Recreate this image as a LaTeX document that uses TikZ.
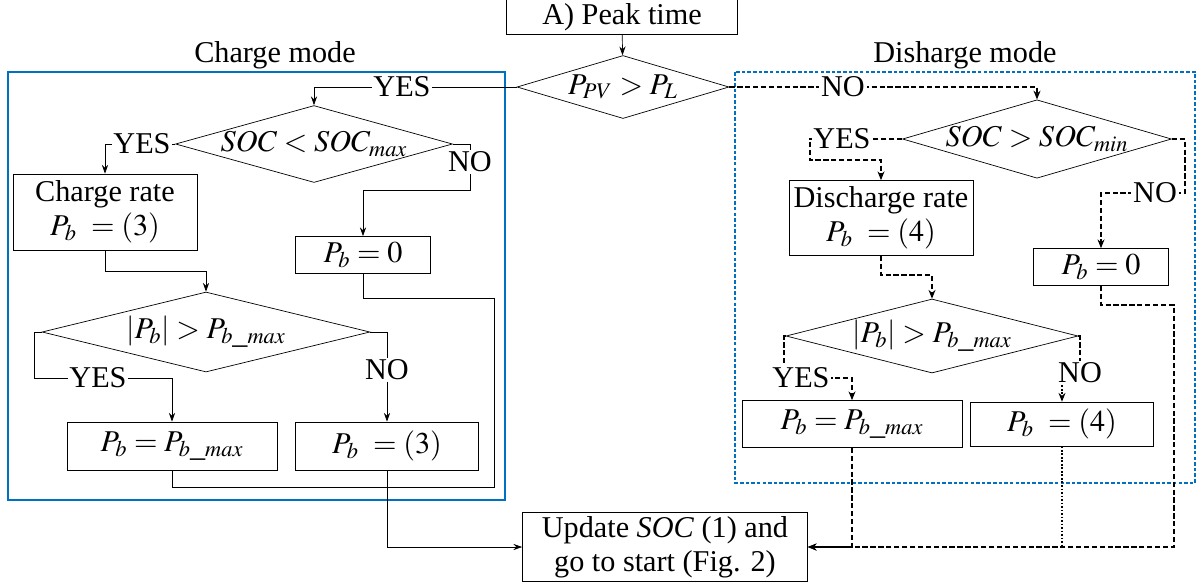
\documentclass[tikz,border=0pt]{standalone}
\usepackage{mathptmx}
\usepackage[no-math]{fontspec}
\setmainfont{Liberation Serif}
\usetikzlibrary{shapes.geometric,arrows.meta}

\definecolor{modeblue}{RGB}{0,112,192}

\tikzset{
  block/.style={draw, thin, align=center, inner sep=2pt},
  decision/.style={draw, thin, diamond, inner sep=0pt},
  flow/.style={thin, -{Stealth[length=5pt,width=3.5pt]}},
  link/.style={thin},
  dflow/.style={line width=0.7pt, dash pattern=on 3pt off 1.5pt, -{Stealth[length=5pt,width=4pt]}},
  dlink/.style={line width=0.7pt, dash pattern=on 3pt off 1.5pt},
  lbl/.style={fill=white, inner sep=1pt},
  chargeframe/.style={modeblue, line width=1.4pt},
  dischargeframe/.style={modeblue, line width=1.4pt, dash pattern=on 2pt off 1.2pt},
}

\begin{document}
\begin{tikzpicture}[x=0.02cm, y=-0.02cm, font=\fontsize{17.2}{19.5}\selectfont]
\useasboundingbox (0,0) rectangle (1198,583);

% mode frames
\draw[chargeframe] (8,72) rectangle (505,500);
\draw[dischargeframe] (735,72) rectangle (1195,483);
\node (chargetitle) at (275,55) {Charge mode};
\node (dischargetitle) at (965,55) {Disharge mode};

% top
\node[block, minimum width=4.62cm, minimum height=0.64cm] (peak) at (622,17) {A) Peak time};
\node[decision, aspect=3.37, minimum width=4.24cm, minimum height=1.26cm] (pvpl) at (623,87) {$P_{PV} > P_L$};

% charge mode
\node[decision, aspect=3.6, minimum width=5.46cm, minimum height=1.52cm] (soclow) at (314,144) {$SOC < SOC_{max}$};
\node[block, minimum width=3.68cm, minimum height=1.52cm] (chrate) at (105,212) {Charge rate\\$P_b\ = (3)$};
\node[block, minimum width=2.7cm, minimum height=0.74cm] (pbzeroL) at (363,255) {$P_b = 0$};
\node[decision, aspect=4.1, minimum width=6.56cm, minimum height=1.6cm] (limL) at (206,332) {$|P_b| > P_{b\_max}$};
\node[block, minimum width=4.2cm, minimum height=0.96cm] (pbmaxL) at (172,446) {$P_b = P_{b\_max}$};
\node[block, minimum width=3.66cm, minimum height=0.96cm] (pbthree) at (387,446) {$P_b\ = (3)$};

% discharge mode
\node[decision, aspect=3.43, minimum width=5.14cm, minimum height=1.5cm] (sochigh) at (1037,139) {$SOC > SOC_{min}$};
\node[block, minimum width=3.68cm, minimum height=1.5cm] (dsrate) at (881,218) {Discharge rate\\$P_b\ = (4)$};
\node[block, minimum width=2.7cm, minimum height=0.74cm] (pbzeroR) at (1101,267) {$P_b = 0$};
\node[decision, aspect=3.95, minimum width=5.84cm, minimum height=1.48cm] (limR) at (932,336) {$|P_b| > P_{b\_max}$};
\node[block, minimum width=4.4cm, minimum height=0.94cm] (pbmaxR) at (852,424) {$P_b = P_{b\_max}$};
\node[block, minimum width=3.66cm, minimum height=0.88cm] (pbfour) at (1062,424) {$P_b\ = (4)$};

% end
\node[block, minimum width=5.7cm, minimum height=1.38cm] (update) at (665,547) {Update \textit{SOC} (1) and\\go to start (Fig. 2)};

% charge connectors
\draw[flow] (peak) -- (pvpl);
\draw[flow] (pvpl.west) -| (soclow.north);
\draw[flow] (soclow.west) -| (chrate.north);
\draw[flow] (soclow.east) -- (470,144) |- (363,190) -- (pbzeroL.north);
\draw[flow] (chrate.south) -- (105,271) -| (limL.north);
\draw[link] (pbzeroL.south) |- (494,298) |- (387,487);
\draw[flow] (limL.west) -- (34,332) |- (172,378) -- (pbmaxL.north);
\draw[flow] (limL.east) -| (pbthree.north);
\draw[link] (pbmaxL.south) |- (387,487);
\draw[flow] (pbthree.south) |- (update.west);

% discharge connectors
\draw[dflow] (pvpl.east) -| (sochigh.north);
\draw[dflow] (sochigh.west) -- (810,139) |- (881,160) -- (dsrate.north);
\draw[dflow] (sochigh.east) -- (1185,139) |- (1101,193) -- (pbzeroR.north);
\draw[dflow] (dsrate.south) -- (881,275) -| (limR.north);
\draw[dflow] (limR.west) -- (784,336) |- (852,378) -- (pbmaxR.north);
\draw[dflow] (pbmaxR.south) |- (update.east);
\draw[line width=0.6pt, dash pattern=on 1pt off 1pt] (pbfour.south) -- (pbfour.south |- update.east);
\draw[dflow] (pbzeroR.south) |- (1174,305) |- (update.east);

% labels
\node[lbl] (yes1) at (402,87) {YES};
\node[lbl] (yes2) at (142,144) {YES};
\node[lbl] (no2) at (470,162) {NO};
\node[lbl] (yes3) at (98,378) {YES};
\node[lbl] (no3) at (387,370) {NO};
\node[lbl] (no1) at (843,87) {NO};
\node[lbl] (yes4) at (842,139) {YES};
\node[lbl] (no4) at (1155,193) {NO};
\node[lbl] (yes5) at (801,378) {YES};
\node[lbl] (no5) at (1080,373) {NO};
\draw[dlink] (limR.east) -| (no5.north);
\draw[line width=0.6pt, dash pattern=on 1pt off 1pt, -{Stealth[length=5pt,width=4pt]}] (no5.south -| pbfour.north) -- (pbfour.north);
\end{tikzpicture}
\end{document}
